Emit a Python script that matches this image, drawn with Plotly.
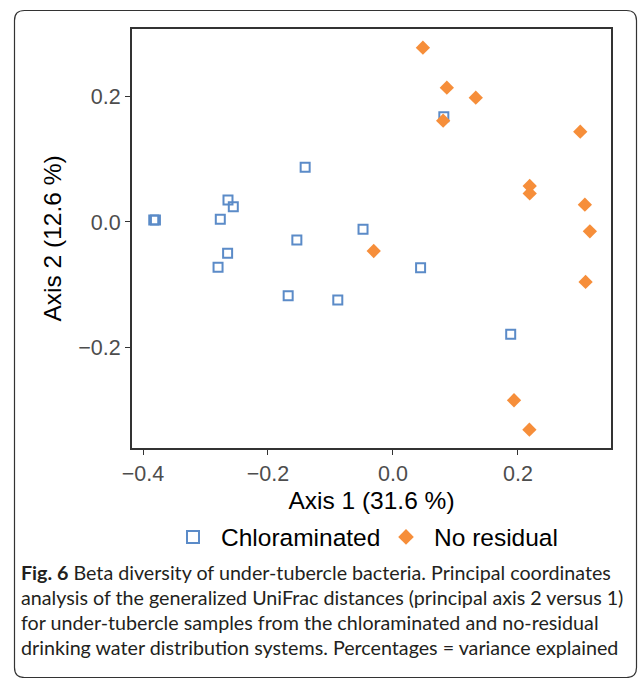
import plotly.graph_objects as go

# Data
chlor_x = [-0.3828, -0.3801, -0.2640, -0.2555, -0.2763, -0.1405, -0.2646, -0.2799,
           -0.1538, -0.0479, 0.0442, -0.1677, -0.0883, 0.0814, 0.1884]
chlor_y = [0.0032, 0.0032, 0.0350, 0.0244, 0.0043, 0.0871, -0.0498, -0.0721,
           -0.0287, -0.0116, -0.0728, -0.1174, -0.1242, 0.1677, -0.1788]
nores_x = [0.0479, 0.0862, 0.1325, 0.0803, 0.2997, 0.2188, 0.2188, -0.0308,
           0.3071, 0.3151, 0.3082, 0.1937, 0.2183]
nores_y = [0.2775, 0.2139, 0.1979, 0.1613, 0.1438, 0.0573, 0.0454, -0.0462,
           0.0275, -0.0148, -0.0955, -0.2839, -0.3307]
x_ticks = [-0.4, -0.2, 0.0, 0.2]
x_tick_labels = ["\u22120.4", "\u22120.2", "0.0", "0.2"]
y_ticks = [-0.2, 0.0, 0.2]
y_tick_labels = ["\u22120.2", "0.0", "0.2"]
caption_lines = [
    "<b>Fig. 6</b> Beta diversity of under-tubercle bacteria. Principal coordinates",
    "analysis of the generalized UniFrac distances (principal axis 2 versus 1)",
    "for under-tubercle samples from the chloraminated and no-residual",
    "drinking water distribution systems. Percentages = variance explained",
]

W, H = 639, 678
L, R, T, B = 132, 611, 29, 448
pw, ph = R - L, B - T

def px(x):
    return (x - L) / pw

def py(y):
    return (B - y) / ph

fig = go.Figure()
fig.add_trace(go.Scatter(
    x=chlor_x, y=chlor_y, mode="markers", name="Chloraminated",
    marker=dict(symbol="square-open", size=9, color="#5b8bc8",
                line=dict(width=2, color="#5b8bc8")),
))
fig.add_trace(go.Scatter(
    x=nores_x, y=nores_y, mode="markers", name="No residual",
    marker=dict(symbol="diamond", size=11, color="#f68e3a", line=dict(width=0)),
))

axis_common = dict(
    showgrid=False, zeroline=False, showline=True, mirror=True,
    linecolor="#333333", linewidth=2, ticks="outside", ticklen=5,
    tickcolor="#333333", tickwidth=1,
    tickfont=dict(family="Liberation Sans, Arial", size=21.5, color="#4d4d4d"),
)
fig.update_xaxes(range=[-0.4176, 0.3489], tickvals=x_ticks, ticktext=x_tick_labels,
                 title=dict(text="Axis 1 (31.6 %)", standoff=7,
                            font=dict(family="Liberation Sans, Arial", size=24.5, color="black")),
                 **axis_common)
fig.update_yaxes(range=[-0.3599, 0.3073], tickvals=y_ticks, ticktext=y_tick_labels,
                 title=dict(text="Axis 2 (12.6 %)", standoff=10,
                            font=dict(family="Liberation Sans, Arial", size=24.5, color="black")),
                 **axis_common)

# Outer rounded frame (pixel coords converted to paper coords)
x0, x1, y0, y1, r = 14.5, 636.5, 10.5, 677.5, 10
path = (f"M {px(x0 + r)} {py(y0)} L {px(x1 - r)} {py(y0)} "
        f"Q {px(x1)} {py(y0)} {px(x1)} {py(y0 + r)} "
        f"L {px(x1)} {py(y1 - r)} Q {px(x1)} {py(y1)} {px(x1 - r)} {py(y1)} "
        f"L {px(x0 + r)} {py(y1)} Q {px(x0)} {py(y1)} {px(x0)} {py(y1 - r)} "
        f"L {px(x0)} {py(y0 + r)} Q {px(x0)} {py(y0)} {px(x0 + r)} {py(y0)} Z")
fig.add_shape(type="path", xref="paper", yref="paper", path=path,
              line=dict(color="#333333", width=1.2), layer="below")

annotations = []
for i, line in enumerate(caption_lines):
    annotations.append(dict(
        text=line, xref="paper", yref="paper", x=px(19), y=py(572 + 25 * i),
        xanchor="left", yanchor="middle", showarrow=False,
        font=dict(family="Lato", size=19.7, color="#231f20"),
    ))

fig.update_layout(
    width=W, height=H, margin=dict(l=L, r=W - R, t=T, b=H - B),
    paper_bgcolor="white", plot_bgcolor="white",
    showlegend=True,
    legend=dict(orientation="h", x=px(165), xanchor="left", y=py(537), yanchor="middle",
                font=dict(family="Liberation Sans, Arial", size=24.5, color="black"),
                itemsizing="constant", itemwidth=46, entrywidth=152,
                entrywidthmode="pixels", bgcolor="rgba(0,0,0,0)"),
    annotations=annotations,
)

fig.write_html("out.html", post_script="document.body.style.margin='0';",
               config={"displayModeBar": False})
